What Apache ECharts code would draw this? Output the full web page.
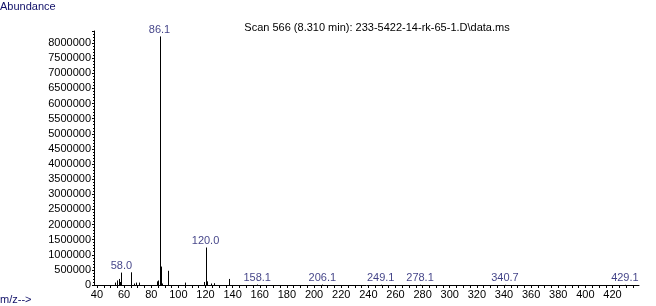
<!DOCTYPE html>
<html><head><meta charset="utf-8">
<script src="https://cdn.jsdelivr.net/npm/echarts@6/dist/echarts.min.js"></script>
<style>html,body{margin:0;padding:0;background:#fff}#c{width:656px;height:306px}</style>
</head><body><div id="c"></div>
<script>
// m/z of each peak
const peakMz = [53, 55, 56, 57, 58.0, 65, 67, 69, 71, 84, 85, 86.1, 87, 88, 92, 105, 119, 120.0, 121, 124, 126, 137, 158.1, 206.1, 249.1, 278.1, 340.7, 429.1];
// abundance of each peak
const peakAbund = [80000, 150000, 200000, 100000, 410000, 420000, 50000, 80000, 80000, 120000, 150000, 8220000, 610000, 50000, 470000, 80000, 100000, 1240000, 120000, 50000, 60000, 200000, 15000, 12000, 8000, 8000, 6000, 6000];
// peaks that carry a text label
const labelMz = [58.0, 86.1, 120.0, 158.1, 206.1, 249.1, 278.1, 340.7, 429.1];
const xTickLabels = [40, 60, 80, 100, 120, 140, 160, 180, 200, 220, 240, 260, 280, 300, 320, 340, 360, 380, 400, 420];
const xMinorTicks = [];
for (let v = 40; v <= 435; v += 5) xMinorTicks.push(v);
const titleText = 'Scan 566 (8.310 min): 233-5422-14-rk-65-1.D\\data.ms';

const peaks = peakMz.map((m, i) => [m, peakAbund[i]]);
const labelPts = labelMz.map(m => [m, peakAbund[peakMz.indexOf(m)]]);

const navy = '#101068';
const font = 'Liberation Sans';
const chart = echarts.init(document.getElementById('c'), null, {renderer: 'canvas'});
chart.setOption({
  backgroundColor: '#fff',
  animation: false,
  textStyle: {fontFamily: font},
  title: {text: titleText, left: 372, top: 17, textAlign: 'center',
    textStyle: {fontFamily: font, fontSize: 11, fontWeight: 'normal', color: '#000'}},
  graphic: [
    {type: 'text', left: 0, top: 1, style: {text: 'Abundance', font: '11px "Liberation Sans"', fill: navy}},
    {type: 'text', left: 0, top: 294, style: {text: 'm/z-->', font: '11px "Liberation Sans"', fill: navy}}
  ],
  grid: {left: 94, right: 17, top: 31, bottom: 21, containLabel: false},
  xAxis: {
    type: 'value', min: 37.8, max: 439.5,
    axisLine: {show: true, lineStyle: {color: '#000', width: 1}},
    axisTick: {show: true, length: 3, customValues: xMinorTicks, lineStyle: {color: '#000'}},
    axisLabel: {customValues: xTickLabels, color: '#000', fontSize: 11, fontFamily: font, margin: 4},
    splitLine: {show: false}
  },
  yAxis: {
    type: 'value', min: 0, max: 8400000, interval: 500000,
    axisLine: {show: true, lineStyle: {color: '#000', width: 1}},
    axisTick: {show: true, length: 2, lineStyle: {color: '#000'}},
    minorTick: {show: true, splitNumber: 5, length: 1, lineStyle: {color: '#000'}},
    axisLabel: {color: '#000', fontSize: 11, fontFamily: font, margin: 3, showMaxLabel: false,
      formatter: v => (v % 500000 === 0 ? String(v) : '')},
    splitLine: {show: false}
  },
  series: [
    {
      type: 'custom',
      data: peaks,
      renderItem: function (params, api) {
        const top = api.coord([api.value(0), api.value(1)]);
        const base = api.coord([api.value(0), 0]);
        const x = Math.round(top[0]) + 0.5;
        return {type: 'line', shape: {x1: x, y1: base[1], x2: x, y2: top[1]},
          style: {stroke: '#000', lineWidth: 1}};
      },
      silent: true
    },
    {
      type: 'scatter',
      data: labelPts,
      symbolSize: 0,
      label: {show: true, position: 'top', distance: 1, color: navy, fontSize: 11, fontFamily: font,
        formatter: p => p.value[0].toFixed(1)},
      silent: true
    }
  ]
});
</script></body></html>
